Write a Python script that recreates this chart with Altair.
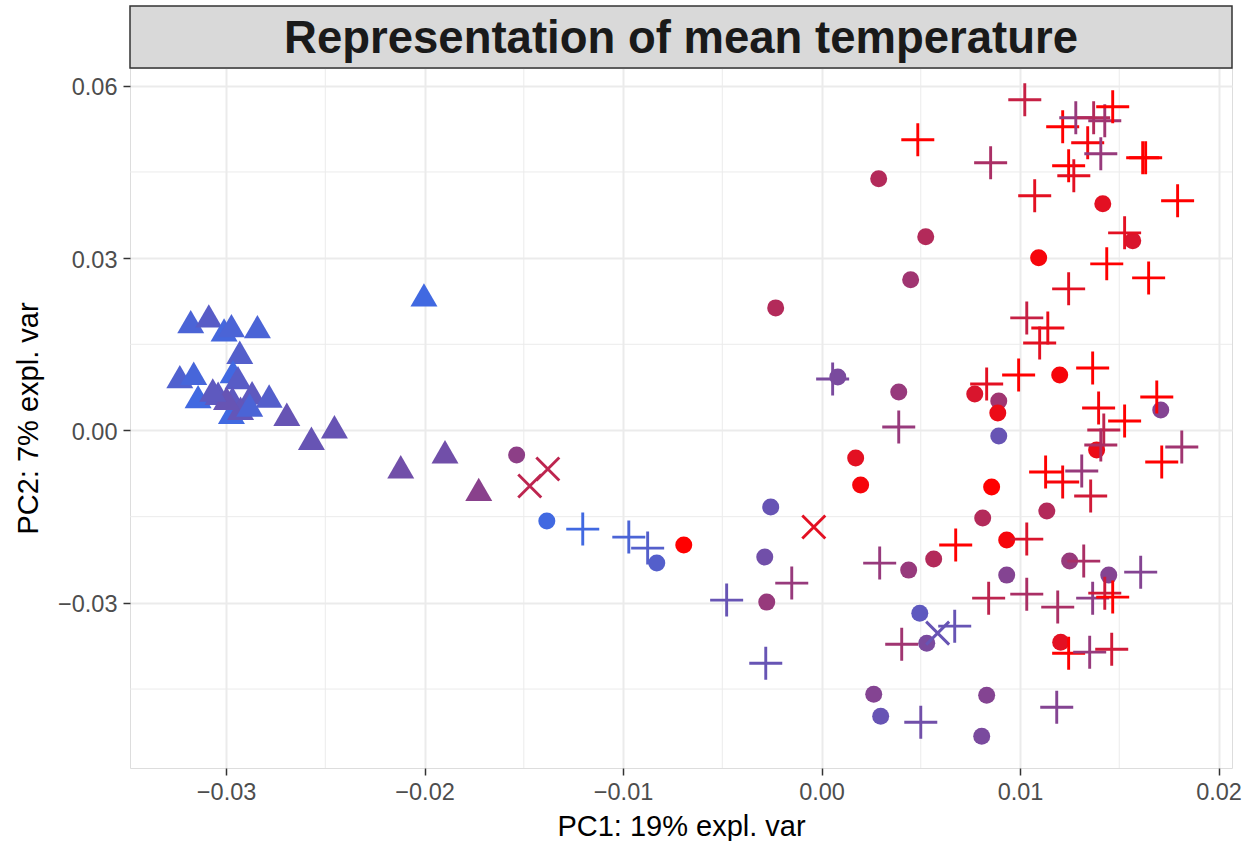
import altair as alt
import pandas as pd

TITLE = "Representation of mean temperature"
X_TITLE = "PC1: 19% expl. var"
Y_TITLE = "PC2: 7% expl. var"

x_ticks = [-0.03, -0.02, -0.01, 0.0, 0.01, 0.02]
y_ticks = [-0.03, 0.0, 0.03, 0.06]
x_minor = [-0.025, -0.015, -0.005, 0.005, 0.015]
y_minor = [-0.045, -0.015, 0.015, 0.045]

# triangles
tri_x = [-0.02003, -0.03178, -0.03087, -0.03010, -0.02973, -0.02842, -0.02931, -0.02965,
         -0.02940, -0.03233, -0.03163, -0.03141, -0.03040, -0.02968, -0.02869, -0.02783,
         -0.02973, -0.02927, -0.02881, -0.02998, -0.02694, -0.02570, -0.02454, -0.02120,
         -0.01897, -0.01727, -0.03067]
tri_y = [0.02360, 0.01895, 0.01994, 0.01751, 0.01825, 0.01808, 0.01362, 0.01024,
         0.00920, 0.00937, 0.00996, 0.00589, 0.00648, 0.00561, 0.00658, 0.00601,
         0.00317, 0.00387, 0.00444, 0.00561, 0.00282, -0.00136, 0.00066, -0.00631,
         -0.00369, -0.01024, 0.00705]
tri_t = [0.0, 0.05, 0.12, 0.02, 0.05, 0.05, 0.1, 0.0,
         0.12, 0.08, 0.03, 0.0, 0.15, 0.15, 0.15, 0.1,
         0.0, 0.18, 0.05, 0.2, 0.2, 0.2, 0.2, 0.25,
         0.25, 0.38, 0.15]

# circles
cir_x = [-0.01536, -0.01384, -0.00830, -0.00694, -0.00256, -0.00286, -0.00276, 0.00172,
         0.00197, 0.00263, 0.00298, -0.00231, 0.00082, 0.00389, 0.00449, 0.00288,
         0.00525, 0.01094, 0.01417, 0.01568, 0.00772, 0.00893, 0.00888, 0.00893,
         0.01200, 0.01709, 0.01386, 0.00857, 0.00812, 0.01135, 0.00933, 0.00565,
         0.00439, 0.00933, 0.01250, 0.01447, 0.00495, 0.00530, 0.01205, 0.00832,
         0.00807]
cir_y = [-0.00427, -0.01576, -0.02308, -0.01994, -0.01333, -0.02203, -0.02987, -0.00479,
         -0.00949, -0.04590, -0.04973, 0.02134, 0.00932, 0.00671, 0.02622, 0.04381,
         0.03371, 0.03005, 0.03945, 0.03301, 0.00636, 0.00514, 0.00305, -0.00096,
         0.00967, 0.00357, -0.00340, -0.00984, -0.01524, -0.01402, -0.01907, -0.02238,
         -0.02430, -0.02517, -0.02273, -0.02517, -0.03179, -0.03701, -0.03684, -0.04607,
         -0.05321]
cir_t = [0.4, 0.0, 0.1, 1.0, 0.2, 0.25, 0.45, 0.85,
         0.95, 0.35, 0.2, 0.6, 0.3, 0.45, 0.5, 0.6,
         0.6, 0.95, 0.85, 0.8, 0.8, 0.5, 0.9, 0.2,
         0.95, 0.35, 0.9, 1.0, 0.6, 0.6, 0.95, 0.6,
         0.45, 0.35, 0.45, 0.35, 0.15, 0.3, 0.85, 0.35,
         0.3]

# x-crosses
crs_x = [-0.01470, -0.01379, -0.00039, 0.00585]
crs_y = [-0.00967, -0.00671, -0.01681, -0.03527]
crs_t = [0.65, 0.65, 0.85, 0.2]

# plus signs
pls_x = [-0.01203, -0.00971, -0.00876, -0.00478, -0.00150, -0.00281, 0.00293, 0.00056,
         0.00389, 0.01024, 0.00485, 0.00852, 0.01215, 0.01281, 0.01371, 0.01427,
         0.01467, 0.01341, 0.01407, 0.01245, 0.01271, 0.01618, 0.01633, 0.01074,
         0.01794, 0.01527, 0.01437, 0.01648, 0.01245, 0.01034, 0.01140, 0.01099,
         0.00832, 0.00993, 0.01366, 0.01689, 0.01396, 0.01527, 0.01422, 0.01407,
         0.01815, 0.01714, 0.01129, 0.01215, 0.01311, 0.01356, 0.00676, 0.01034,
         0.01321, 0.01608, 0.00842, 0.01034, 0.01190, 0.01366, 0.01427, 0.01467,
         0.00671, 0.00404, 0.01245, 0.01351, 0.01462, 0.00500, 0.01185]
pls_y = [-0.01716, -0.01855, -0.02047, -0.02952, -0.02656, -0.04050, -0.02308, 0.00897,
         0.00061, 0.05757, 0.05060, 0.04659, 0.05287, 0.05443, 0.05443, 0.05391,
         0.05635, 0.05008, 0.04816, 0.04607, 0.04433, 0.04747, 0.04747, 0.04085,
         0.03998, 0.03440, 0.02900, 0.02656, 0.02465, 0.01960, 0.01785, 0.01524,
         0.00810, 0.00967, 0.01089, 0.00584, 0.00392, 0.00165, 0.00009, -0.00253,
         -0.00287, -0.00549, -0.00723, -0.00897, -0.00705, -0.01141, -0.01994, -0.01890,
         -0.02273, -0.02465, -0.02918, -0.02848, -0.03074, -0.02918, -0.02831, -0.02900,
         -0.03405, -0.03719, -0.03876, -0.03858, -0.03806, -0.05077, -0.04816]
pls_t = [0.0, 0.05, 0.1, 0.2, 0.45, 0.2, 0.45, 0.3,
         0.45, 0.7, 1.0, 0.55, 1.0, 0.45, 0.6, 0.5,
         1.0, 0.95, 0.45, 1.0, 0.85, 1.0, 1.0, 0.85,
         1.0, 0.85, 1.0, 1.0, 0.85, 0.7, 0.9, 0.85,
         0.85, 1.0, 1.0, 1.0, 0.95, 1.0, 0.65, 0.55,
         0.5, 1.0, 1.0, 0.95, 0.45, 0.75, 1.0, 0.8,
         0.55, 0.35, 0.65, 0.55, 0.55, 0.4, 0.75, 1.0,
         0.2, 0.5, 1.0, 0.45, 0.75, 0.25, 0.35]

FONT = "Liberation Sans"
W, H = 1102, 700

xscale = alt.Scale(domain=[-0.03484, 0.02068], nice=False, zero=False)
yscale = alt.Scale(domain=[-0.05874, 0.06309], nice=False, zero=False)
cscale = alt.Scale(domain=[0, 1], range=["#4169E1", "#FF0000"], interpolate="rgb")

xaxis = alt.Axis(values=x_ticks, format=".2f", title=X_TITLE, domain=False,
                 grid=True, gridColor="#EBEBEB", gridWidth=2,
                 tickColor="#333333", tickWidth=1.5, tickSize=7,
                 labelFont=FONT, labelFontSize=23.5, labelColor="#4D4D4D", labelPadding=5,
                 titleFont=FONT, titleFontSize=29, titleFontWeight="normal", titleColor="black",
                 titleBaseline="alphabetic", titleX=W / 2, titleY=67)
yaxis = alt.Axis(values=y_ticks, format=".2f", title=Y_TITLE, domain=False,
                 grid=True, gridColor="#EBEBEB", gridWidth=2,
                 tickColor="#333333", tickWidth=1.5, tickSize=7,
                 labelFont=FONT, labelFontSize=23.5, labelColor="#4D4D4D", labelPadding=6,
                 labelOffset=2,
                 titleFont=FONT, titleFontSize=29, titleFontWeight="normal", titleColor="black",
                 titleBaseline="alphabetic", titleAngle=270, titleX=-93, titleY=H / 2)

X = alt.X("x:Q", scale=xscale, axis=xaxis)
Y = alt.Y("y:Q", scale=yscale, axis=yaxis)
C = alt.Color("t:Q", scale=cscale, legend=None)

tri = pd.DataFrame({"x": tri_x, "y": tri_y, "t": tri_t})
cir = pd.DataFrame({"x": cir_x, "y": cir_y, "t": cir_t})
crs = pd.DataFrame({"x": crs_x, "y": crs_y, "t": crs_t})
pls = pd.DataFrame({"x": pls_x, "y": pls_y, "t": pls_t})

minor_x = alt.Chart(pd.DataFrame({"x": x_minor})).mark_rule(color="#EBEBEB", strokeWidth=1).encode(x=X)
minor_y = alt.Chart(pd.DataFrame({"y": y_minor})).mark_rule(color="#EBEBEB", strokeWidth=1).encode(y=Y)

l_tri = alt.Chart(tri).mark_point(shape="triangle-up", filled=True, opacity=1, size=729).encode(x=X, y=Y, color=C)
l_cir = alt.Chart(cir).mark_point(shape="circle", filled=True, opacity=1, size=289).encode(x=X, y=Y, color=C)
l_crs = alt.Chart(crs).mark_point(shape="M-1,-1L1,1M-1,1L1,-1", filled=False, opacity=1,
                                  size=529, strokeWidth=2.9).encode(x=X, y=Y, color=C)
l_pls = alt.Chart(pls).mark_point(shape="M-1,0L1,0M0,-1L0,1", filled=False, opacity=1,
                                  size=1089, strokeWidth=2.9).encode(x=X, y=Y, color=C)

strip = alt.Chart(pd.DataFrame({"label": [TITLE]})).mark_rect(
    fill="#D9D9D9", stroke="#333333", strokeWidth=1.5
).encode(x=alt.value(0), x2=alt.value(W), y=alt.value(-62), y2=alt.value(0))
strip_text = alt.Chart(pd.DataFrame({"label": [TITLE]})).mark_text(
    font=FONT, fontSize=45.5, fontWeight="bold", color="#1A1A1A", baseline="alphabetic", align="center"
).encode(x=alt.value(W / 2), y=alt.value(-15), text="label:N")

chart = alt.layer(minor_x, minor_y, l_tri, l_cir, l_crs, l_pls, strip, strip_text).properties(
    width=W, height=H,
    autosize=alt.AutoSizeParams(type="none"),
    padding={"left": 130, "top": 68, "right": 19, "bottom": 73},
).configure_view(stroke="#333333", strokeWidth=1.5).configure(background="white")

chart.save("out.html", embed_options={"renderer": "svg", "actions": False})
